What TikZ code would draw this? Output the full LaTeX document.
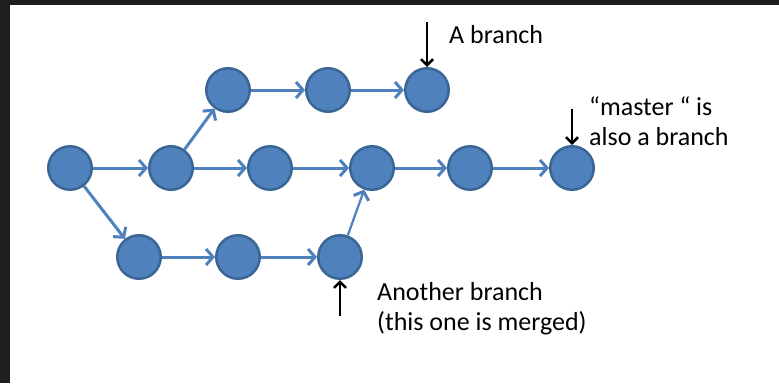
\documentclass[tikz,border=0pt]{standalone}
\usepackage{fontspec}
\setmainfont{Carlito}
\usetikzlibrary{arrows.meta}
\definecolor{commitfill}{HTML}{4F81BD}
\definecolor{commitline}{HTML}{3A6696}
\definecolor{framedark}{HTML}{1E1E1E}
\begin{document}
\begin{tikzpicture}[x=1pt,y=-1pt,
  commit/.style={circle, fill=commitfill, draw=commitline, line width=2.5pt,
                 minimum size=43.5pt, inner sep=0pt},
  flow/.style={draw=commitfill, line width=3pt,
               -{Straight Barb[length=7pt,width=16pt,line width=3pt]}},
  pointer/.style={draw=black, line width=2.5pt,
                  -{Straight Barb[length=6pt,width=12pt,line width=2.5pt]}},
  note/.style={font=\fontsize{26}{30}\selectfont, align=left, inner sep=0pt}]
  % canvas with dark frame strips along the top and left edges
  \fill[white] (0,0) rectangle (779,383);
  \fill[framedark] (0,0) rectangle (779,5);
  \fill[framedark] (0,0) rectangle (10,383);
  \useasboundingbox (0,0) rectangle (779,383);

  % main line
  \node[commit] (m1) at (70,168) {};
  \node[commit] (m2) at (171,168) {};
  \node[commit] (m3) at (270,168) {};
  \node[commit] (m4) at (372,168) {};
  \node[commit] (m5) at (470,168) {};
  \node[commit] (m6) at (572,168) {};
  % upper branch
  \node[commit] (t1) at (228,90) {};
  \node[commit] (t2) at (328,90) {};
  \node[commit] (t3) at (427,90) {};
  % lower branch
  \node[commit] (b1) at (139,257) {};
  \node[commit] (b2) at (238,257) {};
  \node[commit] (b3) at (340,257) {};

  \draw[flow] (m1) -- (m2);
  \draw[flow] (m2) -- (m3);
  \draw[flow] (m3) -- (m4);
  \draw[flow] (m4) -- (m5);
  \draw[flow] (m5) -- (m6);
  \draw[flow] (m2) -- (t1);
  \draw[flow] (t1) -- (t2);
  \draw[flow] (t2) -- (t3);
  \draw[flow] (m1) -- (b1);
  \draw[flow] (b1) -- (b2);
  \draw[flow] (b2) -- (b3);
  \draw[flow, line width=2.2pt] (b3) -- (m4);

  % branch pointers
  \coordinate (pa) at (427,22);
  \coordinate (pm) at (572,109);
  \coordinate (pb) at (340,316);
  \draw[pointer] (pa) -- (t3);
  \draw[pointer] (pm) -- (m6);
  \draw[pointer] (pb) -- (b3);

  % multi-line notes are anchored on the baseline of their last line
  \node[note, anchor=base west] (la) at (449,43) {A branch};
  \node[note, anchor=base west] (lm) at (589,145) {“master “ is\\also a branch};
  \node[note, anchor=base west] (lb) at (377,330) {Another branch\\(this one is merged)};
\end{tikzpicture}
\end{document}
